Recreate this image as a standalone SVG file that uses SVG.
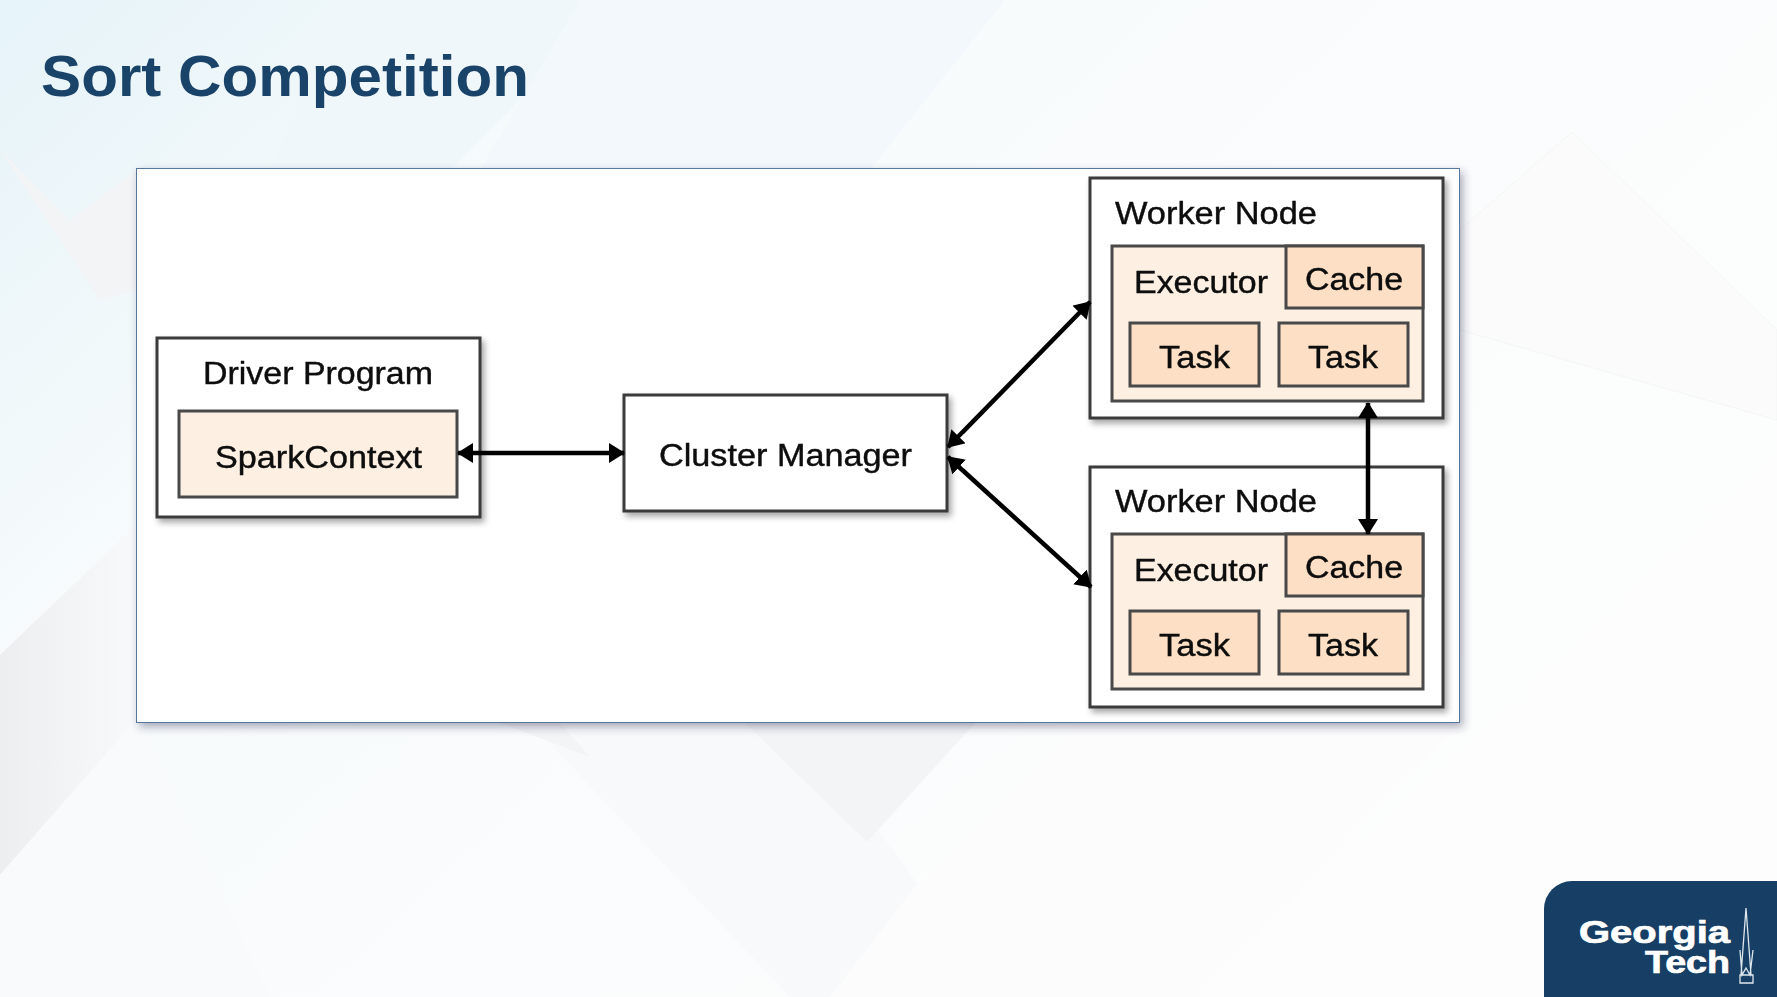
<svg xmlns="http://www.w3.org/2000/svg" width="1777" height="997" viewBox="0 0 1777 997">
<style>
.box{fill:#fff;stroke:#3a3a3a;stroke-width:3}
.exec{fill:#fdefe2;stroke:#484848;stroke-width:3}
.task{fill:#fcdfc4;stroke:#484848;stroke-width:3}
.lbl{font-family:"Liberation Sans",Arial,sans-serif;font-size:31px;fill:#0b0b0b;stroke:#0b0b0b;stroke-width:0.4}
.conn{fill:none;stroke:#000;stroke-width:4.5;marker-start:url(#ah);marker-end:url(#ah)}
</style>
<defs>
<linearGradient id="bg" x1="0" y1="0" x2="1" y2="0.6"><stop offset="0" stop-color="#e6f3f8"/><stop offset="0.3" stop-color="#f7fbfc"/><stop offset="1" stop-color="#fdfdfd"/></linearGradient>
<linearGradient id="gl" x1="0" y1="0" x2="1" y2="0"><stop offset="0" stop-color="#eceeef"/><stop offset="1" stop-color="#f8f9fa"/></linearGradient>
<filter id="sh" x="-10%" y="-10%" width="120%" height="120%"><feDropShadow dx="3" dy="4" stdDeviation="3" flood-color="#000" flood-opacity="0.35"/></filter>
<filter id="psh" x="-3%" y="-3%" width="106%" height="106%"><feDropShadow dx="3" dy="4" stdDeviation="4" flood-color="#335" flood-opacity="0.4"/></filter>
<filter id="soft" x="-5%" y="-5%" width="110%" height="110%"><feGaussianBlur stdDeviation="0.6"/></filter>
<marker id="ah" markerUnits="userSpaceOnUse" markerWidth="18" markerHeight="22" refX="15" refY="10" orient="auto-start-reverse"><path d="M0 0L16 10L0 20z" fill="#000"/></marker>
</defs>
<g id="background">
<rect width="1777" height="997" fill="url(#bg)"/>
<polygon points="345,0 620,0 450,170 270,170" fill="#f0f7fa"/>
<polygon points="580,0 1005,0 870,170 480,170" fill="#f2f8fb"/>
<polygon points="0,150 70,220 136,170 136,290 100,300" fill="#f2f4f5"/>
<polygon points="0,655 136,525 136,720 0,875" fill="url(#gl)"/>
<polygon points="136,720 0,875 0,997 270,997" fill="#f9fafb"/>
<polygon points="530,723 800,723 1000,997 790,997" fill="#f8f9fa"/>
<polygon points="745,723 975,723 867,842" fill="#f2f4f5"/>
<polygon points="500,723 560,723 590,757" fill="#f3f4f5"/>
<polygon points="1460,230 1572,132 1777,330 1777,420 1460,330" fill="#fbfbfb" stroke="#f4f5f5"/>
<polygon points="920,880 1080,723 1460,723 1200,997 830,997" fill="#fcfcfc"/>
</g>
<text id="title" x="41" y="96" font-family="'Liberation Sans',Arial,sans-serif" font-size="58" font-weight="700" fill="#1a4369" textLength="488" lengthAdjust="spacingAndGlyphs">Sort Competition</text>
<rect id="panel" x="136.500" y="168.500" width="1323" height="554" fill="#fff" stroke="#55789a" stroke-width="1" filter="url(#psh)"/>
<g filter="url(#soft)">
<g id="driver-program">
<rect class="box" x="157" y="338" width="323" height="179" filter="url(#sh)"/>
<text class="lbl" x="203" y="384" textLength="230" lengthAdjust="spacingAndGlyphs">Driver Program</text>
</g>
<g id="spark-context">
<rect class="exec" x="179" y="411" width="278" height="86"/>
<text class="lbl" x="215" y="468" textLength="207" lengthAdjust="spacingAndGlyphs">SparkContext</text>
</g>
<g id="cluster-manager">
<rect class="box" x="624" y="395" width="323" height="116" filter="url(#sh)"/>
<text class="lbl" x="659" y="466" textLength="253" lengthAdjust="spacingAndGlyphs">Cluster Manager</text>
</g>
<g id="worker-node-1">
<rect class="box" x="1090" y="178" width="353" height="240" filter="url(#sh)"/>
<text class="lbl" x="1115" y="224" textLength="202" lengthAdjust="spacingAndGlyphs">Worker Node</text>
<rect class="exec" x="1112" y="246" width="311" height="155"/>
<text class="lbl" x="1134" y="293" textLength="134" lengthAdjust="spacingAndGlyphs">Executor</text>
<rect class="task" x="1286" y="246" width="137" height="62"/>
<text class="lbl" x="1305" y="290" textLength="98" lengthAdjust="spacingAndGlyphs">Cache</text>
<rect class="task" x="1130" y="323" width="129" height="63"/>
<text class="lbl" x="1159" y="368" textLength="71" lengthAdjust="spacingAndGlyphs">Task</text>
<rect class="task" x="1279" y="323" width="129" height="63"/>
<text class="lbl" x="1308" y="368" textLength="70" lengthAdjust="spacingAndGlyphs">Task</text>
</g>
<g id="worker-node-2">
<rect class="box" x="1090" y="467" width="353" height="240" filter="url(#sh)"/>
<text class="lbl" x="1115" y="512" textLength="202" lengthAdjust="spacingAndGlyphs">Worker Node</text>
<rect class="exec" x="1112" y="534" width="311" height="155"/>
<text class="lbl" x="1134" y="581" textLength="134" lengthAdjust="spacingAndGlyphs">Executor</text>
<rect class="task" x="1286" y="534" width="137" height="62"/>
<text class="lbl" x="1305" y="578" textLength="98" lengthAdjust="spacingAndGlyphs">Cache</text>
<rect class="task" x="1130" y="611" width="129" height="63"/>
<text class="lbl" x="1159" y="656" textLength="71" lengthAdjust="spacingAndGlyphs">Task</text>
<rect class="task" x="1279" y="611" width="129" height="63"/>
<text class="lbl" x="1308" y="656" textLength="70" lengthAdjust="spacingAndGlyphs">Task</text>
</g>
<g id="connectors">
<line class="conn" x1="948" y1="447" x2="1090" y2="302"/>
<line class="conn" x1="948" y1="457" x2="1091" y2="587"/>
<line class="conn" x1="458" y1="453" x2="624" y2="453"/>
<line class="conn" x1="1368" y1="403" x2="1368" y2="534"/>
</g>
</g>
<g id="logo">
<path d="M1777 881H1572a28 28 0 0 0-28 28V997H1777z" fill="#173f66"/>
<text x="1579" y="943" font-family="'Liberation Sans',Arial,sans-serif" font-size="31" font-weight="700" fill="#fff" stroke="#fff" stroke-width="0.7" textLength="151" lengthAdjust="spacingAndGlyphs">Georgia</text>
<text x="1645" y="973" font-family="'Liberation Sans',Arial,sans-serif" font-size="31" font-weight="700" fill="#fff" stroke="#fff" stroke-width="0.7" textLength="85" lengthAdjust="spacingAndGlyphs">Tech</text>
<path d="M1746 908L1741 975M1746 908L1751 975M1740 950L1742 975L1746 968L1750 975L1753 950M1740 975H1753V983H1740z" fill="none" stroke="#dfe7ec" stroke-width="1.300"/>
</g>
</svg>
